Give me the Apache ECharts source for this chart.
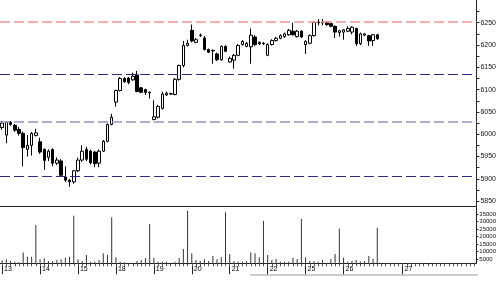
<!DOCTYPE html>
<html><head><meta charset="utf-8">
<script src="https://cdn.jsdelivr.net/npm/echarts@6/dist/echarts.min.js"></script>
<style>html,body{margin:0;padding:0;background:#fff;}#c{width:499px;height:283px;}</style>
</head><body><div id="c"></div>
<script>
// day tick labels and the slot where each day starts
const dayLabels = ['13','14','15','18','19','20','21','22','25','26','27'];
const dayStartSlots = [0,9,18,27,36,45,54,63,72,81,95];
const slotCount = 113;

const opens  = [6015,5998,6027,6020,6011,6002,5966,5975,5997, 5983,5966,5948,5966,5935,5940,5904,5897,5893,
  5918,5942,5966,5962,5960,5935,5962,5984,6022, 6072,6098,6125,6126,6122,6133,6104,6100,6094,
  6033,6038,6058,6088,6090,6089,6123,6154,6199, 6233,6206,6221,6216,6190,6188,6180,6167,6197,
  6162,6166,6177,6201,6197,6196,6218,6206,6203, 6177,6201,6210,6215,6219,6223,6231,6219,6231,
  6201,6204,6221,6251,6250,6251,6248,6242,6228, 6229,6231,6229,6237,6203,6222,6221,6210,6223];
const closes = [6025,6027,6022,6009,6002,5970,5975,6002,6003, 5960,5941,5962,5935,5942,5908,5897,5893,5918,
  5942,5962,5944,5936,5934,5962,5984,6022,6038, 6098,6125,6118,6116,6130,6096,6094,6094,6093,
  6039,6062,6090,6092,6091,6123,6154,6199,6204, 6209,6212,6222,6190,6184,6187,6167,6197,6186,
  6170,6177,6199,6208,6204,6222,6201,6203,6204, 6201,6210,6215,6221,6225,6233,6223,6231,6218,
  6208,6221,6251,6250,6251,6246,6242,6229,6232, 6234,6237,6240,6203,6225,6225,6209,6223,6214];
const lows   = [6010,5980,6019,6005,5997,5928,5950,5952,5995, 5956,5920,5940,5928,5931,5905,5893,5882,5889,
  5915,5938,5940,5932,5926,5926,5960,5982,6020, 6062,6096,6115,6112,6120,6094,6092,6088,6080,
  6031,6035,6055,6086,6088,6087,6120,6150,6197, 6206,6204,6218,6188,6182,6158,6164,6165,6184,
  6160,6147,6175,6199,6195,6158,6198,6200,6200, 6175,6199,6208,6213,6216,6221,6221,6217,6216,
  6180,6202,6219,6244,6244,6243,6240,6216,6219, 6212,6229,6224,6198,6200,6220,6198,6198,6212];
const highs  = [6030,6029,6029,6023,6016,6006,5998,6005,6012, 5992,5968,5966,5968,5948,5944,5928,5899,5920,
  5948,5975,5972,5965,5962,5966,5987,6024,6046, 6100,6128,6128,6128,6138,6142,6106,6102,6096,
  6076,6066,6095,6096,6093,6126,6156,6209,6212, 6246,6216,6226,6220,6192,6190,6183,6199,6199,
  6174,6180,6202,6211,6207,6237,6222,6208,6207, 6204,6213,6218,6224,6228,6236,6250,6234,6233,
  6211,6224,6253,6258,6258,6253,6250,6244,6234, 6236,6242,6242,6239,6228,6227,6223,6225,6225];
const volumes = [4000,4780,3670,3200,2780,9400,6550,6550,27700, 4780,5440,3670,3670,4330,4780,5900,6550,33900,
  4780,3670,7670,3200,3200,4330,8800,7670,32800, 6100,3200,2780,2560,2560,3670,4330,5440,28300,
  5900,3200,3200,3200,2560,3200,5900,11700,37200, 8800,4330,3670,4780,3670,7000,4780,6100,36100,
  8300,3670,3200,3200,3670,9400,8800,6100,30300, 7670,4330,5000,3200,3200,3200,5900,5000,31700,
  6100,3670,3670,3200,4330,2560,4780,8300,25400, 5900,3200,3670,4330,3200,3670,7000,5000,25900];

const levelLines = [6253, 6134, 6028, 5906];
const priceLabels = [5850,5900,5950,6000,6050,6100,6150,6200,6250];
const priceTicks = [5850,5875,5900,5925,5950,5975,6000,6025,6050,6075,6100,6125,6150,6175,6200,6225,6250,6275];
const volumeLabels = [5000,10000,15000,20000,25000,30000,35000];

const levelColors = ['#f39494','#2b2b85','#9494c4','#2b2b85'];
const levelWidths = [1.5, 1.2, 1.5, 1.2];
const slots = [];
for (let i = 0; i < slotCount; i++) {
  const k = dayStartSlots.indexOf(i);
  slots.push(k >= 0 ? dayLabels[k] : '');
}
const candles = opens.map((o, i) => [o, closes[i], lows[i], highs[i]]);
const isDay = (idx, val) => val !== '';
const plain = v => String(v);
const font = 'Liberation Sans';

const chart = echarts.init(document.getElementById('c'), null, {renderer: 'canvas'});
chart.setOption({
  animation: false,
  backgroundColor: '#fff',
  grid: [
    {left: -4.3, right: 20.5, top: 0, height: 206},
    {left: -4.3, right: 20.5, top: 207, height: 56.3}
  ],
  xAxis: [
    {type: 'category', gridIndex: 0, data: slots, boundaryGap: true,
     axisLine: {show: true, lineStyle: {color: '#222', width: 1}},
     axisTick: {show: false}, axisLabel: {show: false}, splitLine: {show: false}},
    {type: 'category', gridIndex: 1, data: slots, position: 'bottom', boundaryGap: true,
     axisLine: {show: true, lineStyle: {color: '#222', width: 1}},
     axisTick: {show: true, alignWithLabel: true, interval: isDay, length: 11, lineStyle: {color: '#222'}},
     axisLabel: {show: true, interval: isDay, align: 'left', verticalAlign: 'top', margin: 2,
       padding: [0, 0, 0, 2], fontSize: 7, color: '#000', fontFamily: font, hideOverlap: false}},
    {type: 'category', gridIndex: 1, data: slots, position: 'bottom', boundaryGap: true,
     axisLine: {show: false},
     axisTick: {show: true, alignWithLabel: true, interval: 0, length: 3, lineStyle: {color: '#555'}},
     axisLabel: {show: false}}
  ],
  yAxis: [
    {type: 'value', gridIndex: 0, position: 'right', min: 5839, max: 6301, scale: true,
     axisLine: {show: true, lineStyle: {color: '#222'}},
     axisTick: {show: true, length: 3, customValues: priceTicks, lineStyle: {color: '#222'}},
     axisLabel: {show: true, customValues: priceLabels, formatter: plain, fontSize: 7, color: '#111', margin: 4, fontFamily: font},
     splitLine: {show: false}},
    {type: 'value', gridIndex: 1, position: 'right', min: 2133, max: 39667,
     axisLine: {show: true, lineStyle: {color: '#222'}},
     axisTick: {show: true, length: 2, customValues: volumeLabels, lineStyle: {color: '#222'}},
     axisLabel: {show: true, customValues: volumeLabels, formatter: plain, fontSize: 6, color: '#111', margin: 3, fontFamily: font},
     splitLine: {show: false}}
  ],
  series: [
    {type: 'candlestick', xAxisIndex: 0, yAxisIndex: 0, data: candles, barWidth: 3, z: 3,
     itemStyle: {color: '#fff', color0: '#000', borderColor: '#000', borderColor0: '#000', borderWidth: 1},
     markLine: {silent: true, symbol: ['none', 'none'], label: {show: false}, animation: false,
       data: levelLines.map((v, i) => ({yAxis: v, lineStyle: {color: levelColors[i], type: [10, 4], width: levelWidths[i], opacity: 1}}))}},
    {type: 'bar', xAxisIndex: 1, yAxisIndex: 1, data: volumes, barWidth: 1,
     itemStyle: {color: '#333'}}
  ],
  graphic: [
    {type: 'rect', shape: {x: 250, y: 274, width: 228, height: 2}, style: {fill: '#cccccc'}, silent: true}
  ]
});
</script></body></html>
